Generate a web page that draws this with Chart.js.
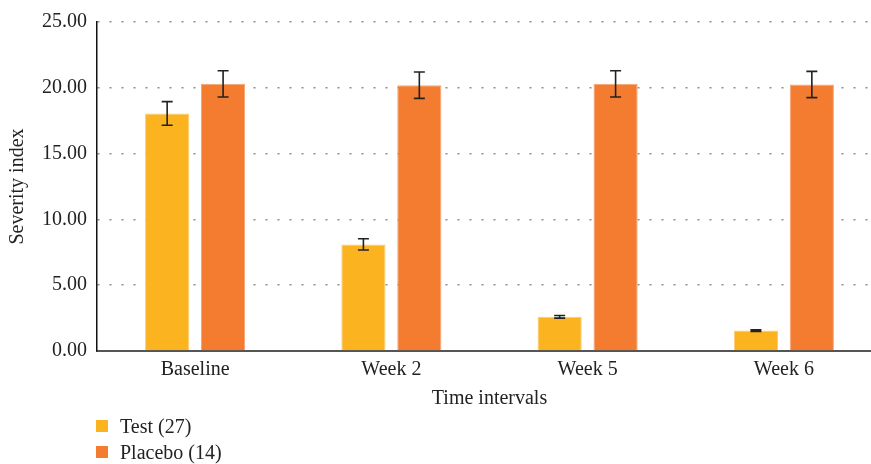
<!DOCTYPE html>
<html>
<head>
<meta charset="utf-8">
<script src="https://cdn.jsdelivr.net/npm/chart.js@4.4.1/dist/chart.umd.min.js"></script>
<style>
  html, body { margin: 0; padding: 0; background: #fff; overflow: hidden; }
  #wrap { position: relative; width: 882px; height: 464px; }
  #legend { position: absolute; left: 96px; top: 413px; font-family: 'Liberation Serif', serif; font-size: 20px; color: #222; }
  #legend div { display: flex; align-items: center; height: 26px; }
  #legend span.box { display: inline-block; width: 12px; height: 12px; margin-right: 12px; }
</style>
</head>
<body>
<div id="wrap">
  <canvas id="chart" width="882" height="464"></canvas>
  <div id="legend"></div>
</div>
<script>
const categories = ['Baseline', 'Week 2', 'Week 5', 'Week 6'];
const testValues = [18.05, 8.1, 2.6, 1.55];
const testErrors = [0.9, 0.43, 0.1, 0.06];
const placeboValues = [20.3, 20.2, 20.3, 20.25];
const placeboErrors = [1.0, 1.0, 1.0, 1.0];
const seriesLabels = ['Test (27)', 'Placebo (14)'];

const serif = "'Liberation Serif', 'Times New Roman', serif";

// whiskers drawn on top of each bar from the error arrays
const errorBars = {
  id: 'errorBars',
  afterDatasetsDraw(chart) {
    const ctx = chart.ctx;
    const y = chart.scales.y;
    ctx.save();
    ctx.strokeStyle = '#222';
    ctx.lineWidth = 1.6;
    chart.data.datasets.forEach((ds, i) => {
      const meta = chart.getDatasetMeta(i);
      meta.data.forEach((bar, j) => {
        const v = ds.data[j];
        const e = ds.errors[j];
        const top = y.getPixelForValue(v + e);
        const bottom = y.getPixelForValue(v - e);
        const x = bar.x;
        const cap = 5.5;
        ctx.beginPath();
        ctx.moveTo(x, top);
        ctx.lineTo(x, bottom);
        ctx.moveTo(x - cap, top);
        ctx.lineTo(x + cap, top);
        ctx.moveTo(x - cap, bottom);
        ctx.lineTo(x + cap, bottom);
        ctx.stroke();
      });
    });
    ctx.restore();
  }
};

const ctx = document.getElementById('chart');
const myChart = new Chart(ctx, {
  type: 'bar',
  data: {
    labels: categories,
    datasets: [{
      label: seriesLabels[0],
      data: testValues,
      errors: testErrors,
      backgroundColor: '#FBB41F',
      borderColor: '#FCCB70',
      borderWidth: 1,
      barPercentage: 0.79,
      categoryPercentage: 0.57
    }, {
      label: seriesLabels[1],
      data: placeboValues,
      errors: placeboErrors,
      backgroundColor: '#F47C30',
      borderColor: '#F8A471',
      borderWidth: 1,
      barPercentage: 0.79,
      categoryPercentage: 0.57
    }]
  },
  options: {
    responsive: false,
    animation: false,
    maintainAspectRatio: false,
    layout: {
      padding: { top: 9, bottom: 54, left: 6, right: 0 }
    },
    scales: {
      x: {
        grid: { display: false, drawTicks: false },
        border: { color: '#555', width: 2 },
        ticks: { color: '#222', font: { family: serif, size: 20, lineHeight: 1.05 }, padding: 8 },
        title: {
          display: true,
          text: 'Time intervals',
          color: '#222',
          font: { family: serif, size: 20, lineHeight: 1.1 },
          padding: { top: 0, bottom: 0 }
        }
      },
      y: {
        min: 0,
        max: 25,
        grid: {
          color: '#8c8c8c',
          lineWidth: 1.5,
          drawTicks: false
        },
        // v4 uses border.dash for the grid lines; the axis line itself stays solid
        border: { color: '#111', width: 1.5, dash: [2, 10] },
        ticks: {
          stepSize: 5,
          color: '#222',
          padding: 10,
          font: { family: serif, size: 20 },
          callback: (v) => v.toFixed(2)
        },
        title: {
          display: true,
          text: 'Severity index',
          color: '#222',
          font: { family: serif, size: 20 },
          padding: { top: 0, bottom: 2 }
        }
      }
    },
    plugins: {
      legend: { display: false },
      tooltip: { enabled: false }
    }
  },
  plugins: [errorBars]
});

const legendEl = document.getElementById('legend');
myChart.data.datasets.forEach((ds) => {
  const row = document.createElement('div');
  row.innerHTML = '<span class="box" style="background:' + ds.backgroundColor + '"></span>' + ds.label;
  legendEl.appendChild(row);
});
</script>
</body>
</html>
